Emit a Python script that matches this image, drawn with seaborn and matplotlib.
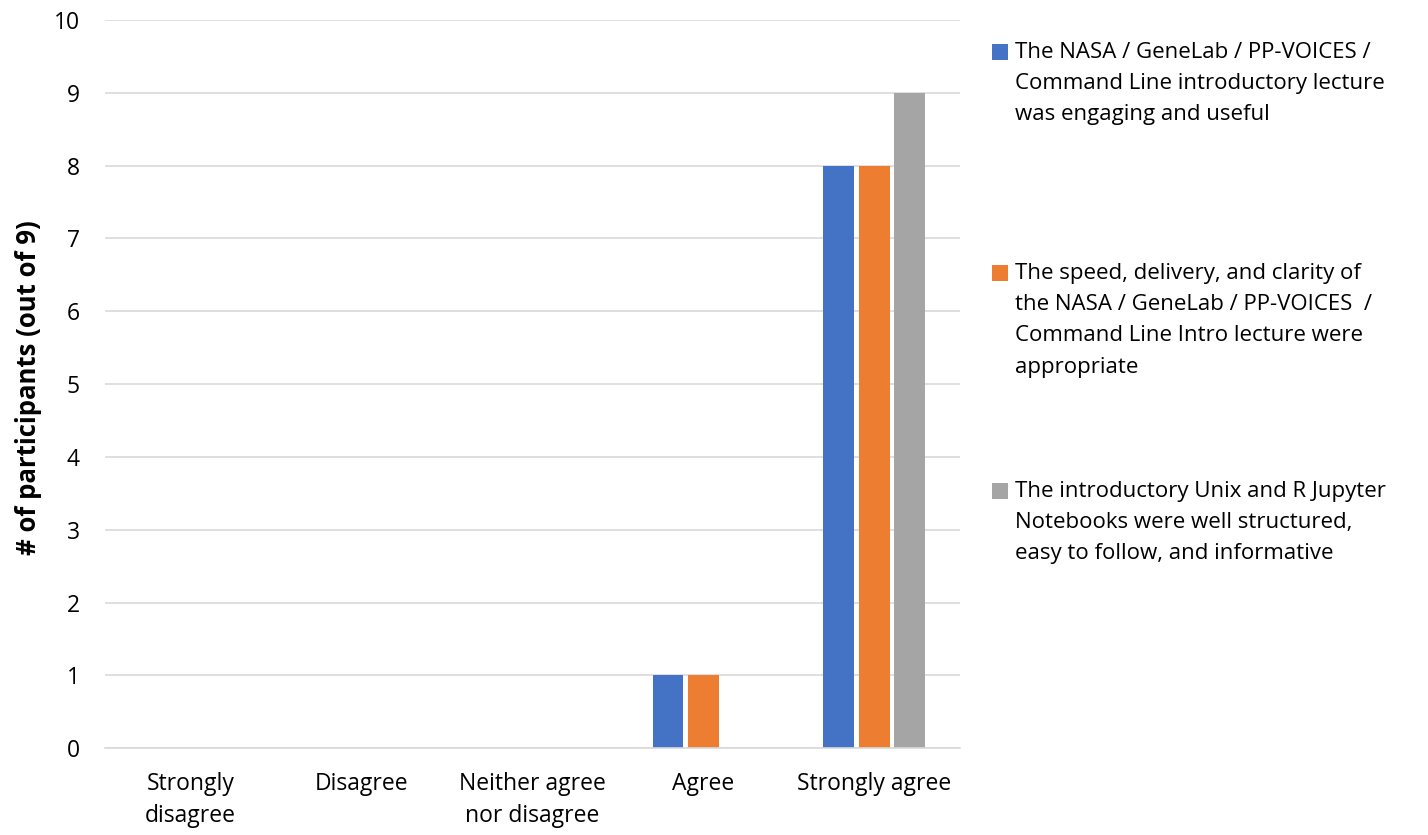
import matplotlib
matplotlib.use("Agg")
import matplotlib.pyplot as plt
import seaborn as sns
import pandas as pd
from matplotlib.patches import Rectangle
from matplotlib.legend_handler import HandlerPatch

categories = ["Strongly\ndisagree", "Disagree", "Neither agree\nnor disagree", "Agree", "Strongly agree"]
series_names = [
    "The NASA / GeneLab / PP-VOICES /\nCommand Line introductory lecture\nwas engaging and useful",
    "The speed, delivery, and clarity of\nthe NASA / GeneLab / PP-VOICES  /\nCommand Line Intro lecture were\nappropriate",
    "The introductory Unix and R Jupyter\nNotebooks were well structured,\neasy to follow, and informative",
]
lecture_engaging = [0, 0, 0, 1, 8]
lecture_clarity = [0, 0, 0, 1, 8]
notebooks_structured = [0, 0, 0, 0, 9]
colors = ["#4472C4", "#ED7D31", "#A5A5A5"]
y_ticks = list(range(0, 11))

rows = []
for name, vals in zip(series_names, [lecture_engaging, lecture_clarity, notebooks_structured]):
    for cat, v in zip(categories, vals):
        rows.append({"Response": cat, "Statement": name, "Count": v})
df = pd.DataFrame(rows)

sns.set_theme(style="white")
plt.rcParams["font.family"] = ["Open Sans", "DejaVu Sans"]
plt.rcParams["text.color"] = "#000000"
plt.rcParams["axes.labelcolor"] = "#000000"

fig = plt.figure(figsize=(14.28, 8.35), dpi=100)
ax = fig.add_axes([0.0735, 0.104, 0.5985, 0.872])

sns.barplot(data=df, x="Response", y="Count", hue="Statement", order=categories,
            hue_order=series_names, palette=colors, width=0.62, gap=0.13,
            saturation=1, linewidth=0, edgecolor="none", ax=ax, legend=False)

ax.set_ylim(0, 10)
ax.set_yticks(y_ticks)
ax.set_xlim(-0.5, len(categories) - 0.5)
ax.yaxis.grid(True, color="#D9D9D9", linewidth=1.2)
ax.set_axisbelow(True)
for side in ["left", "right", "top"]:
    ax.spines[side].set_visible(False)
ax.spines["bottom"].set_color("#D9D9D9")
ax.spines["bottom"].set_linewidth(1.2)
ax.tick_params(axis="both", length=0, labelsize=16.5, colors="#000000")
ax.tick_params(axis="y", pad=18)
ax.tick_params(axis="x", pad=17)
for lbl in ax.get_xticklabels():
    lbl.set_linespacing(1.45)
ax.set_xlabel("")
ax.set_ylabel("# of participants (out of 9)", fontsize=18.5, fontweight="bold")
ax.yaxis.set_label_coords(-0.074, 0.495)


class TopSquareHandler(HandlerPatch):
    """Square legend key aligned with the first line of a multi-line label."""

    def __init__(self, nlines, pitch, **kw):
        super().__init__(**kw)
        self.nlines = nlines
        self.pitch = pitch

    def create_artists(self, legend, orig_handle, xdescent, ydescent, width, height, fontsize, trans):
        size = 11.5
        shift = (self.nlines - 1) / 2 * self.pitch
        y = -ydescent + (height - size) / 2 + shift
        p = Rectangle((-xdescent + width - size, y), size, size,
                      facecolor=orig_handle.get_facecolor(), edgecolor="none", transform=trans)
        return [p]


# one legend box per statement, evenly stacked down the right-hand side
fs = 16
pitch = 32 * 0.72  # line pitch in points
entry_tops = [0.9605, 0.6958, 0.4347]
for color, name, top in zip(colors, series_names, entry_tops):
    h = Rectangle((0, 0), 1, 1, facecolor=color)
    leg = fig.legend([h], [name], loc="upper left", bbox_to_anchor=(0.688, top),
                     frameon=False, fontsize=fs,
                     handler_map={h: TopSquareHandler(name.count("\n") + 1, pitch)},
                     handlelength=0.75, handleheight=0.8, handletextpad=0.3,
                     borderaxespad=0)
    for t in leg.get_texts():
        t.set_linespacing(1.64)
        t.set_color("#000000")

fig.savefig("out.png", dpi=100)
